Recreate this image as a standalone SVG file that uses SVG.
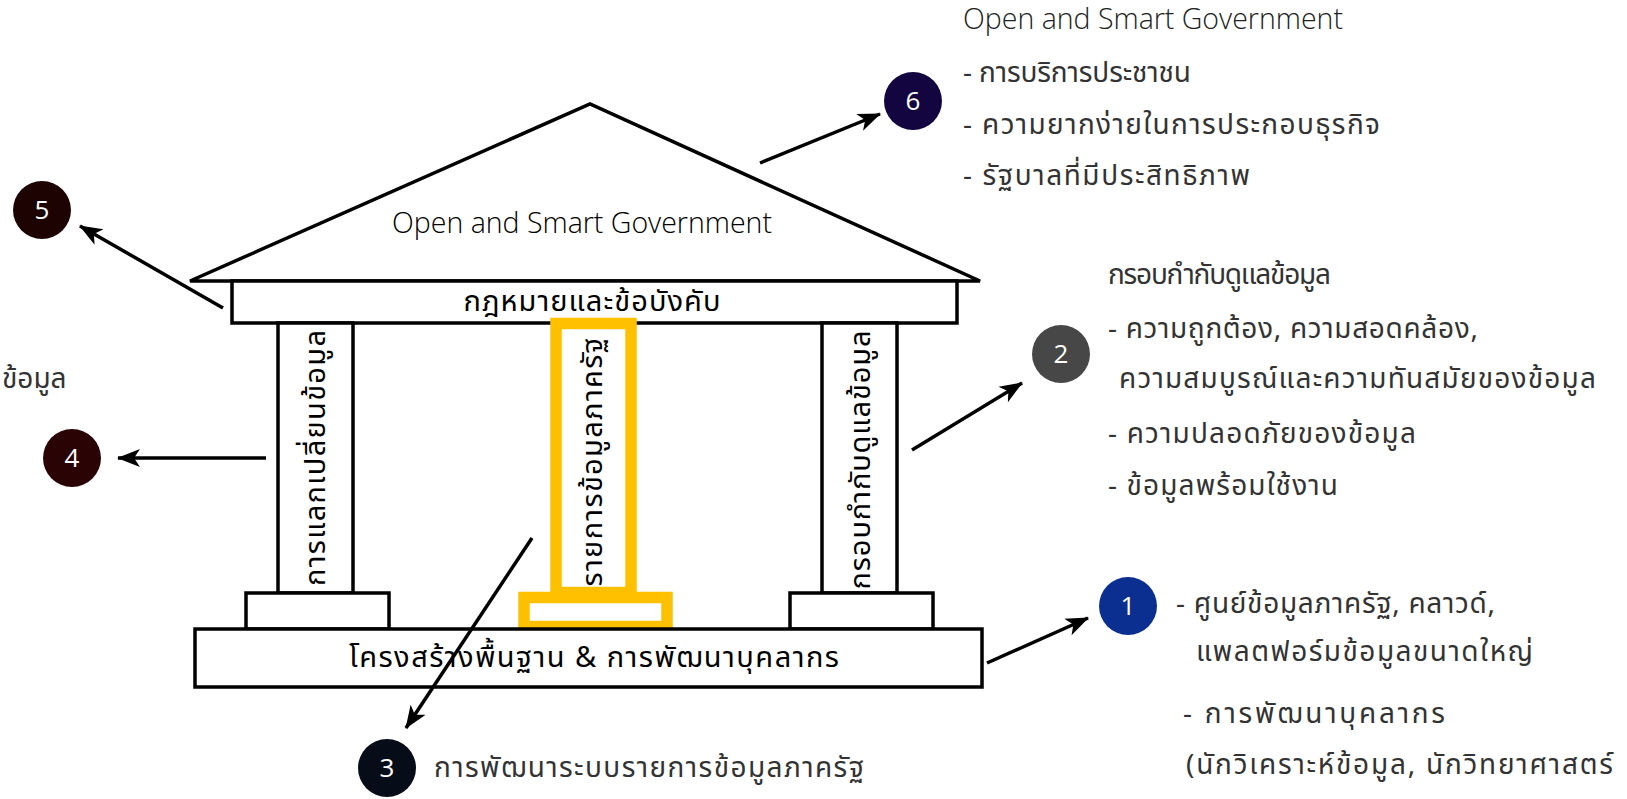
<svg xmlns="http://www.w3.org/2000/svg" width="1627" height="799" viewBox="0 0 1627 799">
<defs>
<marker id="ah" markerUnits="userSpaceOnUse" markerWidth="24" markerHeight="20" refX="22" refY="10" orient="auto">
<path d="M0,1 L23,10 L0,19 L6,10 z" fill="#000"/>
</marker>
<style>
.s{fill:#fff;stroke:#000;stroke-width:3.5}
.o{fill:none;stroke:#FFC000;stroke-width:11.5}
.t{font-family:"Noto Sans Thai","Noto Sans","Open Sans",sans-serif;font-size:29px;fill:#000}
.g{font-family:"Noto Sans Thai","Noto Sans","Open Sans",sans-serif;font-size:28px;fill:#333}
.e{font-family:"Open Sans","Noto Sans",sans-serif;font-size:28.5px;font-weight:300;fill:#222}
.n{font-family:"Open Sans","Noto Sans",sans-serif;font-size:26px;fill:#fff;text-anchor:middle}
.c{text-anchor:middle}
.ln{stroke:#000;stroke-width:3.5;fill:none;marker-end:url(#ah)}
</style>
</defs>
<rect width="1627" height="799" fill="#fff"/>

<g id="roof">
<polygon class="s" points="190,281 590,104 980,281"/>
<text class="e c" x="582" y="233" style="fill:#000">Open and Smart Government</text>
</g>
<g id="beam">
<rect class="s" x="232" y="281" width="725" height="42"/>
<text class="t c" x="592" y="311" textLength="257">กฎหมายและข้อบังคับ</text>
</g>
<g id="pillar-left">
<rect class="s" x="278" y="323" width="75" height="270"/>
<rect class="s" x="246" y="593" width="143" height="36"/>
<text class="t c" transform="translate(325,458) rotate(-90)" textLength="256">การแลกเปลี่ยนข้อมูล</text>
</g>
<g id="pillar-middle">
<rect class="o" x="556" y="323.5" width="75" height="269"/>
<rect class="o" x="524" y="597.5" width="143" height="29"/>
<text class="t c" transform="translate(602,462) rotate(-90)" textLength="249">รายการข้อมูลภาครัฐ</text>
</g>
<g id="pillar-right">
<rect class="s" x="822" y="323" width="75" height="270"/>
<rect class="s" x="790" y="593" width="143" height="36"/>
<text class="t c" transform="translate(870,460) rotate(-90)" textLength="259">กรอบกำกับดูแลข้อมูล</text>
</g>
<g id="foundation">
<rect class="s" x="195" y="629" width="787" height="58"/>
<text class="t c" x="594" y="667" textLength="490">โครงสร้างพื้นฐาน &amp; การพัฒนาบุคลากร</text>
</g>

<g id="connectors">
<line class="ln" x1="987" y1="663" x2="1088" y2="618"/>
<line class="ln" x1="912" y1="450" x2="1022" y2="383"/>
<line class="ln" x1="532" y1="538" x2="406" y2="728"/>
<line class="ln" x1="266" y1="458" x2="118" y2="458"/>
<line class="ln" x1="223" y1="308" x2="80" y2="226"/>
<line class="ln" x1="760" y1="163" x2="880" y2="114"/>
</g>

<g id="badge-1">
<circle cx="1128" cy="606" r="29" fill="#0B2F91"/>
<text class="n" x="1128" y="615">1</text>
<text class="g" x="1176" y="613" textLength="319">- ศูนย์ข้อมูลภาครัฐ, คลาวด์,</text>
<text class="g" x="1196" y="661" textLength="337">แพลตฟอร์มข้อมูลขนาดใหญ่</text>
<text class="g" x="1183" y="723" textLength="262">- การพัฒนาบุคลากร</text>
<text class="g" x="1186" y="774" textLength="427">(นักวิเคราะห์ข้อมูล, นักวิทยาศาสตร์</text>
</g>
<g id="badge-2">
<circle cx="1061" cy="354" r="29" fill="#474747"/>
<text class="n" x="1061" y="363">2</text>
<text class="g" x="1108" y="284" textLength="223">กรอบกำกับดูแลข้อมูล</text>
<text class="g" x="1108" y="338" textLength="370">- ความถูกต้อง, ความสอดคล้อง,</text>
<text class="g" x="1119" y="388" textLength="477">ความสมบูรณ์และความทันสมัยของข้อมูล</text>
<text class="g" x="1108" y="443" textLength="308">- ความปลอดภัยของข้อมูล</text>
<text class="g" x="1108" y="495" textLength="230">- ข้อมูลพร้อมใช้งาน</text>
</g>
<g id="badge-3">
<circle cx="387" cy="768" r="29" fill="#060D18"/>
<text class="n" x="387" y="777">3</text>
<text class="g" x="434" y="777" textLength="430">การพัฒนาระบบรายการข้อมูลภาครัฐ</text>
</g>
<g id="badge-4">
<circle cx="72" cy="458" r="29" fill="#2A0404"/>
<text class="n" x="72" y="467">4</text>
<text class="g" x="2" y="388">ข้อมูล</text>
</g>
<g id="badge-5">
<circle cx="42" cy="210" r="29" fill="#1E0303"/>
<text class="n" x="42" y="219">5</text>
</g>
<g id="badge-6">
<circle cx="913" cy="101" r="29" fill="#130640"/>
<text class="n" x="913" y="110">6</text>
<text class="e" x="963" y="29">Open and Smart Government</text>
<text class="g" x="963" y="82" textLength="228">- การบริการประชาชน</text>
<text class="g" x="963" y="134" textLength="417">- ความยากง่ายในการประกอบธุรกิจ</text>
<text class="g" x="963" y="185" textLength="287">- รัฐบาลที่มีประสิทธิภาพ</text>
</g>
</svg>
